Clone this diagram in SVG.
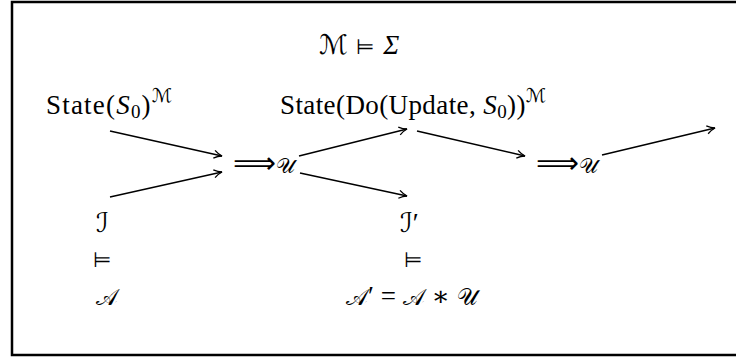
<svg xmlns="http://www.w3.org/2000/svg" width="736" height="362" viewBox="0 0 736 362">
<defs>
<marker id="ah" viewBox="0 0 10 10" refX="9" refY="5" markerWidth="10" markerHeight="10" markerUnits="userSpaceOnUse" orient="auto">
<path d="M1,1 Q5,4 9,5 Q5,6 1,9" fill="none" stroke="#000" stroke-width="1.3"/>
</marker>
</defs>
<style>
text{font-family:"Liberation Serif","DejaVu Serif",serif;font-size:27px;fill:#000}
.cal{font-family:"DejaVu Sans","Noto Sans",serif}
.cal2{font-family:"DejaVu Sans","Noto Sans",serif;font-size:23px}
.u{font-family:"DejaVu Sans","Noto Sans",serif;font-size:21px}
.it{font-style:italic}
.sup{font-size:19px}
.sub{font-size:19px}
.mod{font-family:"DejaVu Sans",sans-serif;font-size:21px}
.arr{font-family:"DejaVu Sans",sans-serif;font-size:30px}
.conn line{stroke:#000;stroke-width:1.5;marker-end:url(#ah)}
</style>
<rect width="736" height="362" fill="#fff"/>
<rect x="12" y="2" width="740" height="353" fill="none" stroke="#000" stroke-width="2.5"/>
<g id="sigma"><text x="319" y="54"><tspan class="cal">ℳ</tspan><tspan class="mod" dx="8">⊨</tspan><tspan class="it" dx="9">Σ</tspan></text></g>
<g id="state0"><text x="46" y="114" letter-spacing="1.2">State(<tspan class="it">S</tspan><tspan class="sub" dy="4">0</tspan><tspan dy="-4">)</tspan><tspan class="sup cal" dy="-12">ℳ</tspan></text></g>
<g id="state1"><text x="280" y="114" letter-spacing="0.4">State(Do(Update, <tspan class="it">S</tspan><tspan class="sub" dy="4">0</tspan><tspan dy="-4">))</tspan><tspan class="sup cal" dy="-12">ℳ</tspan></text></g>
<g id="upd1"><text x="233" y="173"><tspan class="arr">⟹</tspan><tspan class="u">𝒰</tspan></text></g>
<g id="upd2"><text x="536" y="173"><tspan class="arr">⟹</tspan><tspan class="u">𝒰</tspan></text></g>
<g id="i0"><text x="96" y="232" class="cal">ℐ</text></g>
<g id="m0"><text x="93" y="267" class="mod">⊨</text></g>
<g id="a0"><text x="96" y="305" class="cal2">𝒜</text></g>
<g id="i1"><text x="400" y="232"><tspan class="cal">ℐ</tspan>′</text></g>
<g id="m1"><text x="404" y="267" class="mod">⊨</text></g>
<g id="a1"><text x="346" y="305"><tspan class="cal2">𝒜</tspan>′ = <tspan class="cal2">𝒜</tspan> ∗ <tspan class="cal2">𝒰</tspan></text></g>
<g class="conn">
<line x1="110" y1="131" x2="222" y2="156"/>
<line x1="110" y1="197" x2="222" y2="172"/>
<line x1="299" y1="156" x2="407" y2="129"/>
<line x1="300" y1="173" x2="407" y2="196"/>
<line x1="417" y1="131" x2="525" y2="156"/>
<line x1="602" y1="155" x2="715" y2="128"/>
</g>
</svg>
